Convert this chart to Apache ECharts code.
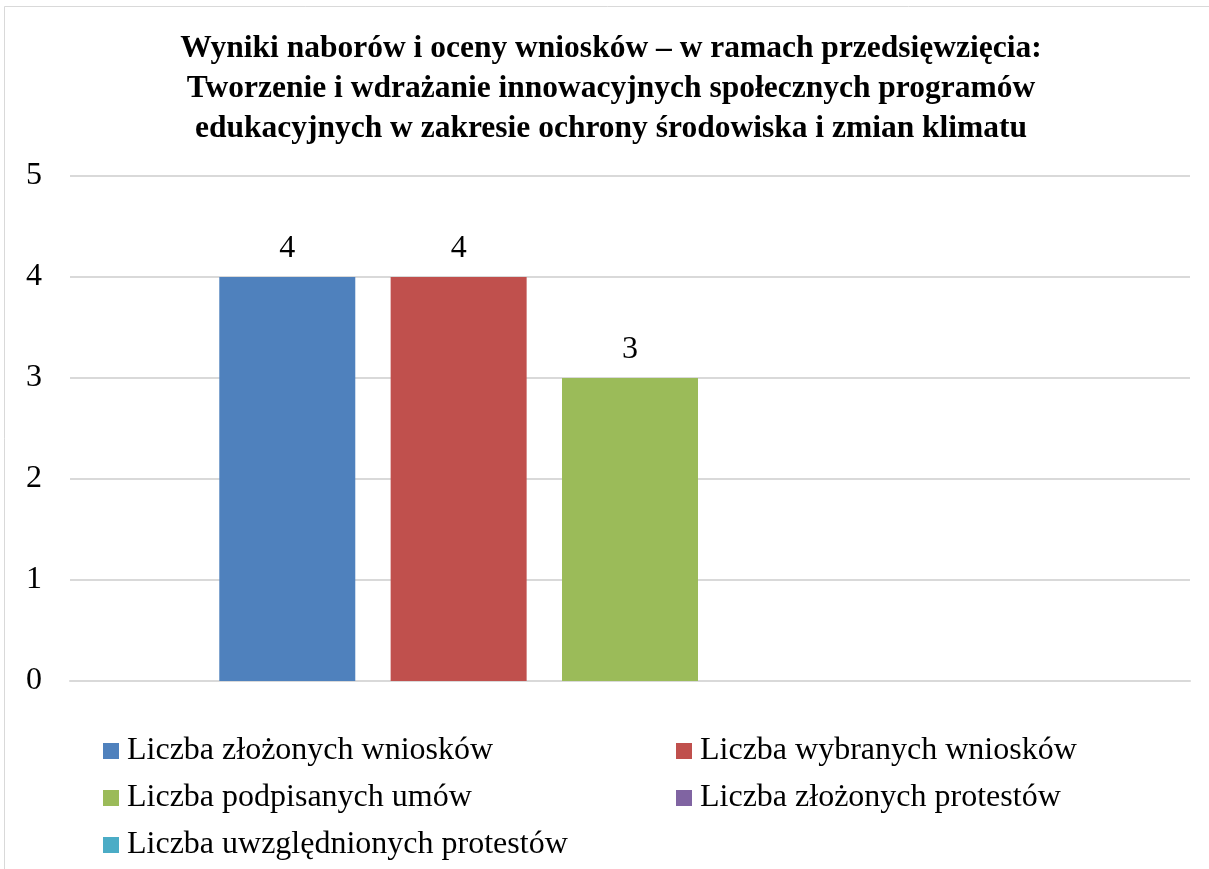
<!DOCTYPE html>
<html>
<head>
<meta charset="utf-8">
<script src="https://cdn.jsdelivr.net/npm/echarts@6/dist/echarts.min.js"></script>
<style>
  html, body { margin: 0; padding: 0; background: #fff; }
  #chart { width: 1209px; height: 869px; }
</style>
</head>
<body>
<div id="chart"></div>
<script>
// dane
const categories = ["Przedsięwzięcie"];
const seriesNames = [
  "Liczba złożonych wniosków",
  "Liczba wybranych wniosków",
  "Liczba podpisanych umów",
  "Liczba złożonych protestów",
  "Liczba uwzględnionych protestów"
];
const seriesValues = [4, 4, 3, null, null];
const colors = ["#4f81bd", "#c0504d", "#9bbb59", "#8064a2", "#4bacc6"];
const yTicks = [0, 1, 2, 3, 4, 5];

const font = "'Liberation Serif', 'Times New Roman', serif";

let myChart = echarts.init(document.getElementById("chart"));

let legendStyle = {
  orient: "vertical",
  itemWidth: 16,
  itemHeight: 16,
  itemGap: 15,
  icon: "rect",
  textStyle: { fontFamily: font, fontSize: 32, color: "#000", padding: [0, 0, 0, 3] }
};

let option = {
  backgroundColor: "#fff",
  color: colors,
  animation: false,
  title: {
    text: "Wyniki naborów i oceny wniosków – w ramach przedsięwzięcia:\nTworzenie i wdrażanie innowacyjnych społecznych programów\nedukacyjnych w zakresie ochrony środowiska i zmian klimatu",
    left: 606,
    textAlign: "center",
    top: 24,
    textStyle: {
      fontFamily: font,
      fontSize: 31.5,
      fontWeight: "bold",
      color: "#000",
      lineHeight: 40
    }
  },
  graphic: [
    {
      type: "rect",
      shape: { x: 4.5, y: 6.5, width: 1300, height: 1000 },
      style: { fill: "none", stroke: "#d9d9d9", lineWidth: 1 },
      silent: true
    }
  ],
  legend: [
    Object.assign({}, legendStyle, {
      left: 98,
      top: 730,
      data: [seriesNames[0], seriesNames[2], seriesNames[4]]
    }),
    Object.assign({}, legendStyle, {
      left: 671,
      top: 730,
      data: [seriesNames[1], seriesNames[3]]
    })
  ],
  grid: {
    left: 70,
    right: 19,
    top: 176,
    bottom: 188,
    containLabel: false
  },
  xAxis: {
    type: "category",
    data: categories,
    axisLine: { lineStyle: { color: "#d9d9d9", width: 2 } },
    axisTick: { show: false },
    axisLabel: { show: false }
  },
  yAxis: {
    type: "value",
    min: yTicks[0],
    max: yTicks[yTicks.length - 1],
    interval: 1,
    axisLine: { show: false },
    axisTick: { show: false },
    splitLine: { lineStyle: { color: "#d9d9d9", width: 2 } },
    axisLabel: {
      fontFamily: font,
      fontSize: 32,
      color: "#000",
      margin: 28
    }
  },
  series: seriesNames.map((name, i) => ({
    name: name,
    type: "bar",
    barWidth: 136,
    barGap: "26%",
    data: [seriesValues[i]],
    label: {
      show: seriesValues[i] !== null,
      position: "top",
      distance: 12,
      fontFamily: font,
      fontSize: 32,
      color: "#000"
    }
  }))
};

myChart.setOption(option);
</script>
</body>
</html>
